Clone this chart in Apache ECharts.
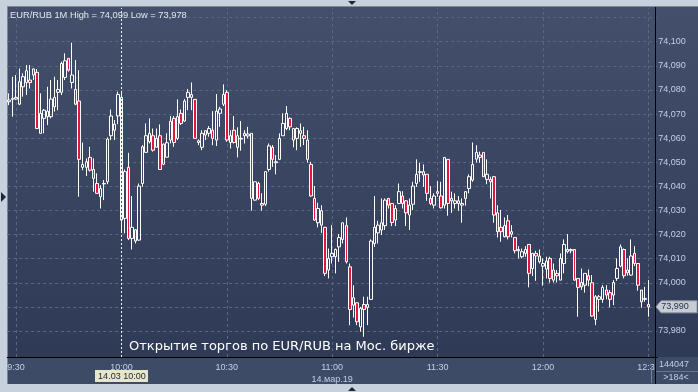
<!DOCTYPE html>
<html><head><meta charset="utf-8">
<script src="https://cdn.jsdelivr.net/npm/echarts@6/dist/echarts.min.js"></script>
<style>html,body{margin:0;padding:0;background:#c6d1dd;}#c{width:698px;height:392px;}</style>
</head><body><div id="c"></div>
<script>
// ---- DATA (EUR/RUB 1-minute candles, 9:28 .. 12:30) ----
const opens = [
74.0751,74.0761,74.0769,74.0741,74.0813,74.0831,74.0841,74.0862,74.0873,74.0620,
74.0682,74.0689,74.0689,74.0730,74.0790,74.0790,74.0852,74.0931,74.0831,74.0802,
74.0754,74.0479,74.0479,74.0520,74.0470,74.0412,74.0357,74.0410,74.0419,74.0610,
74.0633,74.0692,74.0769,74.0267,74.0479,74.0184,74.0220,74.0177,74.0412,74.0541,
74.0585,74.0610,74.0562,74.0610,74.0492,74.0521,74.0592,74.0682,74.0599,74.0703,
74.0671,74.0769,74.0781,74.0761,74.0589,74.0562,74.0631,74.0620,74.0633,74.0592,
74.0703,74.0741,74.0790,74.0582,74.0633,74.0562,74.0596,74.0610,74.0609,74.0620,
74.0343,74.0412,74.0329,74.0326,74.0470,74.0562,74.0498,74.0512,74.0610,74.0640,
74.0682,74.0640,74.0599,74.0620,74.0610,74.0592,74.0491,74.0350,74.0249,74.0299,
74.0230,74.0053,74.0108,74.0108,74.0149,74.0180,74.0237,74.0066,73.9907,73.9917,
73.9817,73.9910,73.9898,73.9931,74.0163,74.0207,74.0219,74.0237,74.0350,74.0329,
74.0260,74.0329,74.0360,74.0340,74.0281,74.0326,74.0412,74.0458,74.0461,74.0450,
74.0350,74.0322,74.0378,74.0360,74.0322,74.0512,74.0340,74.0329,74.0329,74.0322,
74.0350,74.0391,74.0426,74.0513,74.0530,74.0541,74.0429,74.0429,74.0440,74.0290,
74.0230,74.0191,74.0257,74.0212,74.0188,74.0133,74.0108,74.0122,74.0159,74.0059,
74.0122,74.0111,74.0069,74.0057,74.0101,74.0011,74.0039,74.0011,74.0080,74.0138,
74.0138,74.0138,74.0018,74.0001,73.9990,74.0029,74.0000,73.9848,73.9931,73.9931,
73.9970,73.9959,73.9949,74.0018,74.0069,74.0138,74.0053,74.0032,74.0122,74.0080,
73.9970,73.9931,73.9910];
const closes = [
74.0758,74.0765,74.0762,74.0834,74.0855,74.0880,74.0831,74.0887,74.0640,74.0703,
74.0716,74.0712,74.0762,74.0769,74.0802,74.0910,74.0921,74.0882,74.0862,74.0741,
74.0512,74.0491,74.0502,74.0467,74.0433,74.0371,74.0391,74.0412,74.0596,74.0692,
74.0658,74.0781,74.0260,74.0461,74.0184,74.0230,74.0173,74.0401,74.0564,74.0610,
74.0620,74.0550,74.0599,74.0470,74.0575,74.0581,74.0670,74.0582,74.0689,74.0661,
74.0754,74.0790,74.0769,74.0599,74.0582,74.0620,74.0613,74.0640,74.0599,74.0712,
74.0721,74.0781,74.0592,74.0610,74.0582,74.0610,74.0599,74.0620,74.0617,74.0350,
74.0419,74.0350,74.0322,74.0461,74.0568,74.0512,74.0502,74.0599,74.0661,74.0703,
74.0647,74.0592,74.0640,74.0631,74.0599,74.0512,74.0360,74.0260,74.0308,74.0239,
74.0039,74.0101,74.0122,74.0138,74.0188,74.0249,74.0087,73.9889,73.9938,73.9838,
73.9894,73.9889,73.9910,74.0173,74.0230,74.0239,74.0249,74.0343,74.0322,74.0250,
74.0308,74.0378,74.0329,74.0290,74.0322,74.0401,74.0450,74.0461,74.0447,74.0371,
74.0329,74.0360,74.0371,74.0311,74.0520,74.0329,74.0350,74.0340,74.0340,74.0329,
74.0378,74.0440,74.0491,74.0541,74.0520,74.0440,74.0450,74.0419,74.0281,74.0212,
74.0212,74.0237,74.0191,74.0202,74.0133,74.0138,74.0129,74.0138,74.0039,74.0122,
74.0111,74.0087,74.0080,74.0090,74.0018,74.0053,74.0029,74.0101,74.0159,74.0129,
74.0133,74.0011,73.9981,73.9983,74.0039,74.0011,73.9862,73.9942,73.9942,73.9981,
73.9949,73.9931,74.0001,74.0059,74.0149,74.0029,74.0041,74.0111,74.0080,73.9990,
73.9921,73.9935,73.9900];
const lows = [
74.0737,74.0689,74.0758,74.0737,74.0772,74.0779,74.0806,74.0841,74.0640,74.0620,
74.0620,74.0654,74.0682,74.0710,74.0716,74.0779,74.0841,74.0876,74.0806,74.0737,
74.0357,74.0467,74.0443,74.0461,74.0378,74.0371,74.0308,74.0343,74.0409,74.0592,
74.0592,74.0658,74.0212,74.0205,74.0177,74.0138,74.0163,74.0174,74.0398,74.0541,
74.0578,74.0544,74.0562,74.0470,74.0488,74.0520,74.0578,74.0564,74.0592,74.0654,
74.0668,74.0716,74.0716,74.0599,74.0571,74.0550,74.0592,74.0606,74.0571,74.0567,
74.0647,74.0733,74.0585,74.0557,74.0578,74.0520,74.0548,74.0578,74.0599,74.0299,
74.0340,74.0343,74.0299,74.0318,74.0461,74.0481,74.0450,74.0509,74.0610,74.0633,
74.0633,74.0562,74.0550,74.0564,74.0571,74.0498,74.0357,74.0257,74.0230,74.0207,
74.0028,74.0018,74.0080,74.0039,74.0087,74.0163,74.0080,73.9824,73.9856,73.9824,
73.9797,73.9776,73.9824,73.9931,74.0149,74.0163,74.0198,74.0219,74.0308,74.0235,
74.0235,74.0326,74.0308,74.0235,74.0219,74.0302,74.0398,74.0419,74.0398,74.0340,
74.0322,74.0308,74.0357,74.0308,74.0308,74.0278,74.0290,74.0308,74.0299,74.0249,
74.0320,74.0371,74.0419,74.0499,74.0498,74.0440,74.0409,74.0350,74.0249,74.0188,
74.0170,74.0188,74.0180,74.0188,74.0122,74.0101,74.0101,74.0108,73.9981,74.0028,
74.0008,74.0080,73.9988,74.0018,74.0001,74.0001,74.0001,74.0011,74.0039,74.0122,
74.0122,74.0008,73.9859,73.9970,73.9959,73.9986,73.9859,73.9824,73.9880,73.9917,
73.9931,73.9898,73.9907,74.0008,74.0064,74.0018,74.0029,74.0029,74.0069,73.9967,
73.9896,73.9921,73.9859];
const highs = [
74.0786,74.0855,74.0862,74.0889,74.0869,74.0903,74.0903,74.0889,74.0887,74.0786,
74.0721,74.0813,74.0841,74.0855,74.0841,74.0917,74.0952,74.0931,74.0996,74.0924,
74.0882,74.0582,74.0516,74.0564,74.0516,74.0454,74.0405,74.0426,74.0603,74.0719,
74.0675,74.0793,74.0793,74.0470,74.0539,74.0360,74.0223,74.0412,74.0571,74.0661,
74.0682,74.0640,74.0640,74.0657,74.0578,74.0620,74.0692,74.0692,74.0761,74.0719,
74.0762,74.0804,74.0831,74.0761,74.0595,74.0633,74.0633,74.0650,74.0712,74.0783,
74.0730,74.0823,74.0799,74.0633,74.0692,74.0645,74.0671,74.0633,74.0647,74.0620,
74.0419,74.0419,74.0371,74.0461,74.0578,74.0571,74.0530,74.0620,74.0703,74.0733,
74.0686,74.0640,74.0645,74.0661,74.0647,74.0633,74.0502,74.0401,74.0332,74.0322,
74.0232,74.0142,74.0239,74.0142,74.0202,74.0249,74.0271,74.0080,73.9990,73.9917,
73.9900,73.9942,73.9942,74.0180,74.0360,74.0257,74.0350,74.0350,74.0350,74.0329,
74.0322,74.0412,74.0380,74.0343,74.0350,74.0419,74.0512,74.0498,74.0491,74.0450,
74.0401,74.0371,74.0422,74.0419,74.0520,74.0512,74.0378,74.0371,74.0360,74.0350,
74.0380,74.0450,74.0582,74.0571,74.0544,74.0541,74.0512,74.0440,74.0443,74.0322,
74.0302,74.0271,74.0281,74.0239,74.0188,74.0152,74.0142,74.0152,74.0159,74.0124,
74.0133,74.0138,74.0101,74.0108,74.0108,74.0080,74.0053,74.0122,74.0180,74.0202,
74.0142,74.0138,74.0018,74.0059,74.0039,74.0055,74.0032,73.9949,73.9949,73.9990,
73.9990,73.9970,74.0011,74.0101,74.0159,74.0142,74.0101,74.0180,74.0152,74.0080,
73.9970,73.9983,74.0011];

// categories: one-minute slots from 9:28 (two empty slots at the end)
const firstMinute = 9 * 60 + 28;
const slotCount = 185;
const categories = [];
for (let i = 0; i < slotCount; i++) {
  const m = firstMinute + i;
  categories.push(Math.floor(m / 60) + ':' + String(m % 60).padStart(2, '0'));
}
const xTickLabels = ['9:30', '10:00', '10:30', '11:00', '11:30', '12:00', '12:30'];
const xGridTimes = ['9:30', '10:30', '11:00', '11:30', '12:00', '12:30'];
const crosshairTime = '10:00';
const yLabelValues = [73.98, 73.99, 74.00, 74.01, 74.02, 74.03, 74.04, 74.05, 74.06, 74.07, 74.08, 74.09, 74.10];
const yGridValues = [73.98, 73.99, 74.00, 74.01, 74.02, 74.03, 74.04, 74.05, 74.06, 74.07, 74.08, 74.09, 74.10, 74.11];
const dateLabel = '14.мар.19';
const crosshairLabel = '14.03 10:00';
const titleText = 'EUR/RUB 1M High = 74,099 Low = 73,978';
const captionText = 'Открытие торгов по EUR/RUB на Мос. бирже';
const volumeText = '144047';
const countText = '>184<';

const candleData = opens.map((o, i) => [o, closes[i], lows[i], highs[i]]);
const fmt = v => v.toFixed(3).replace('.', ',');
const FONT = 'Liberation Sans';

const chart = echarts.init(document.getElementById('c'));
chart.setOption({
  backgroundColor: '#c6d1dd',
  animation: false,
  textStyle: { fontFamily: FONT },
  grid: { left: 7.2, top: 8, width: 650, height: 349, containLabel: false },
  xAxis: {
    type: 'category', data: categories, boundaryGap: true,
    axisLine: { show: true, lineStyle: { color: '#000', width: 1 } },
    axisTick: { show: false },
    splitLine: { show: false },
    axisLabel: {
      interval: (idx, val) => xTickLabels.includes(val),
      formatter: v => v === '11:00' ? v + '\n' + dateLabel : v,
      color: '#c3cfe3', fontSize: 9, margin: 5, lineHeight: 12, fontFamily: FONT
    }
  },
  yAxis: {
    type: 'value', position: 'right', min: 73.9692, max: 74.1140,
    axisLine: { show: false },
    axisTick: { show: false, customValues: yLabelValues },
    splitLine: { show: false },
    axisLabel: { customValues: yLabelValues, formatter: fmt, color: '#c3cfe3', fontSize: 9, margin: 1, align: 'left', fontFamily: FONT }
  },
  series: [
    {
      type: 'line', data: [], silent: true,
      markLine: {
        silent: true, z: 1, symbol: ['none', 'none'], animation: false,
        label: { show: false },
        lineStyle: { type: [3, 3], color: '#5a6783', width: 1 },
        emphasis: { disabled: true },
        data: xGridTimes.map(t => ({ xAxis: t })).concat(yGridValues.map(v => ({ yAxis: v })))
      }
    },
    {
      type: 'candlestick', data: candleData, barWidth: 3, silent: true,
      itemStyle: {
        color: 'rgba(0,0,0,0)', color0: '#e8143c',
        borderColor: '#ffffff', borderColor0: '#ffffff', borderColorDoji: '#ffffff', borderWidth: 1
      },
      emphasis: { disabled: true },
      markLine: {
        silent: true, z: 6, symbol: ['none', 'none'], animation: false,
        label: { show: false },
        lineStyle: { type: [2, 2], color: '#f2f4f8', width: 1 },
        data: [{ xAxis: crosshairTime }]
      }
    }
  ]
});

const cx = chart.convertToPixel({ xAxisIndex: 0 }, crosshairTime);
const lastClose = closes[closes.length - 1];
const py = chart.convertToPixel({ yAxisIndex: 0 }, lastClose);

const g = [
  { type: 'rect', z: -100, silent: true, shape: { x: 8, y: 7, width: 690, height: 377 }, style: { fill: '#3e4b67' } },
  { type: 'rect', z: -99, silent: true, shape: { x: 8, y: 7, width: 690, height: 350 },
    style: { fill: new echarts.graphic.LinearGradient(0, 0, 0, 1, [{ offset: 0, color: '#434f6b' }, { offset: 1, color: '#2e3a56' }]) } },
  { type: 'line', z: -98, silent: true, shape: { x1: 7.5, y1: 7, x2: 7.5, y2: 384 }, style: { stroke: '#7e8998', lineWidth: 1 } },
  { type: 'line', z: -98, silent: true, shape: { x1: 7, y1: 6.5, x2: 698, y2: 6.5 }, style: { stroke: '#7e8998', lineWidth: 1 } },
  // bottom-right panel overlay (clips the last time label)
  { type: 'rect', z: 55, silent: true, shape: { x: 656, y: 358, width: 42, height: 26 }, style: { fill: '#3e4b67' } },
  { type: 'line', z: 60, silent: true, shape: { x1: 655.5, y1: 7, x2: 655.5, y2: 384 }, style: { stroke: '#000', lineWidth: 1 } },
  { type: 'line', z: 60, silent: true, shape: { x1: 656, y1: 371.5, x2: 698, y2: 371.5 }, style: { stroke: '#6a7590', lineWidth: 1 } },
  { type: 'line', z: 60, silent: true, shape: { x1: 651.5, y1: 367, x2: 651.5, y2: 383 }, style: { stroke: '#76819a', lineWidth: 1 } },
  { type: 'text', z: 61, silent: true, style: { x: 674, y: 365, text: volumeText, fill: '#c3cfe3', font: '9px "' + FONT + '"', align: 'center', verticalAlign: 'middle' } },
  { type: 'text', z: 61, silent: true, style: { x: 676, y: 378, text: countText, fill: '#c3cfe3', font: '9px "' + FONT + '"', align: 'center', verticalAlign: 'middle' } },
  // title
  { type: 'text', z: 61, silent: true, style: { x: 10, y: 15, text: titleText, fill: '#e3e8f1', font: '9.3px "' + FONT + '"', align: 'left', verticalAlign: 'middle' } },
  // caption
  { type: 'text', z: 61, silent: true, style: { x: 129, y: 347, text: captionText, fill: '#ffffff', font: '13px "DejaVu Sans"', align: 'left', verticalAlign: 'middle' } },
  // crosshair time label
  { type: 'rect', z: 61, silent: true, shape: { x: Math.round(cx) - 26, y: 370, width: 53, height: 12 }, style: { fill: '#e7e5cb' } },
  { type: 'text', z: 62, silent: true, style: { x: cx + 0.5, y: 376.5, text: crosshairLabel, fill: '#1b2436', font: '9px "' + FONT + '"', align: 'center', verticalAlign: 'middle' } },
  // last price marker
  { type: 'polygon', z: 61, silent: true, shape: { points: [[656, py], [661, py - 6], [697, py - 6], [697, py + 6], [661, py + 6]] }, style: { fill: '#c8ccd3', stroke: '#8f97a4', lineWidth: 1 } },
  { type: 'text', z: 62, silent: true, style: { x: 675, y: py, text: fmt(lastClose), fill: '#26324e', font: '9px "' + FONT + '"', align: 'center', verticalAlign: 'middle' } },
  // frame arrows
  { type: 'polygon', z: 61, silent: true, shape: { points: [[1, 192], [6, 197], [1, 202]] }, style: { fill: '#1e2738' } },
  { type: 'polygon', z: 61, silent: true, shape: { points: [[348, 1], [356, 1], [352, 5]] }, style: { fill: '#1e2738' } },
  { type: 'polygon', z: 61, silent: true, shape: { points: [[348, 391], [356, 391], [352, 387]] }, style: { fill: '#1e2738' } }
];
chart.setOption({ graphic: g });
</script>
</body></html>
